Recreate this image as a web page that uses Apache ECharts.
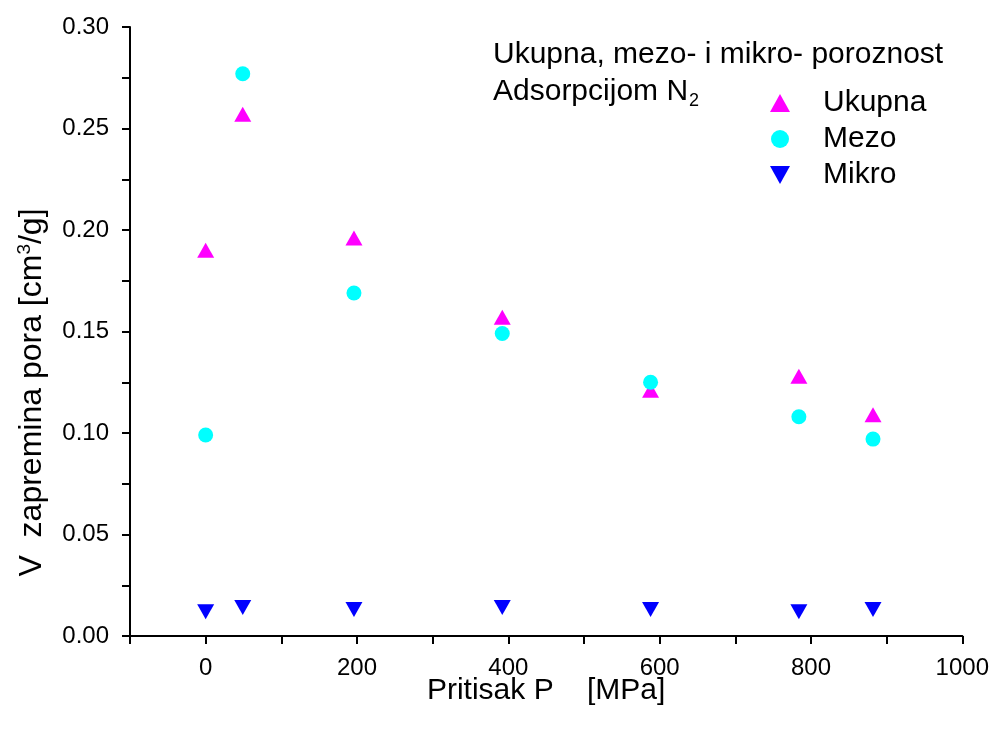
<!DOCTYPE html>
<html><head><meta charset="utf-8">
<script src="https://cdn.jsdelivr.net/npm/echarts@6/dist/echarts.min.js"></script>
<style>html,body{margin:0;padding:0;background:#fff}#c{width:992px;height:729px}</style>
</head><body><div id="c"></div>
<script>
var pressures = [0, 49, 196, 392, 588, 784, 882];
var ukupna = [0.190, 0.257, 0.196, 0.157, 0.121, 0.128, 0.109];
var mezo   = [0.099, 0.277, 0.169, 0.149, 0.125, 0.108, 0.097];
var mikro  = [0.012, 0.014, 0.013, 0.014, 0.013, 0.012, 0.013];
var xTicks = [0, 200, 400, 600, 800, 1000];
var yTicks = [0.00, 0.05, 0.10, 0.15, 0.20, 0.25, 0.30];
var seriesNames = ['Ukupna', 'Mezo', 'Mikro'];

function pairs(vals){ return pressures.map(function(p,i){ return [p, vals[i]]; }); }
var F = "'Liberation Sans',Arial,sans-serif";
var downTri = 'path://M0,0 L10,0 L5,9 Z';

var chart = echarts.init(document.getElementById('c'));
chart.setOption({
  backgroundColor: '#fff',
  animation: false,
  title: {
    text: 'Ukupna, mezo- i mikro- poroznost\nAdsorpcijom N{sub|2}',
    left: 488, top: 31,
    textStyle: {
      fontFamily: F, fontSize: 30, fontWeight: 'normal', color: '#000', lineHeight: 37,
      rich: { sub: { fontFamily: F, fontSize: 18, verticalAlign: 'bottom', padding: [22,0,0,1], lineHeight: 37 } }
    }
  },
  legend: {
    orient: 'vertical', left: 765, top: 83,
    itemWidth: 20, itemHeight: 18, itemGap: 6,
    textStyle: { fontFamily: F, fontSize: 30, color: '#000', padding: [0,0,0,28], lineHeight: 30 },
    data: [
      { name: seriesNames[0], icon: 'triangle', itemStyle: { color: '#ff00ff' } },
      { name: seriesNames[1], icon: 'circle', itemStyle: { color: '#00ffff' } },
      { name: seriesNames[2], icon: downTri, itemStyle: { color: '#0000ff' } }
    ]
  },
  grid: { left: 130, right: 29, top: 27, bottom: 93, containLabel: false },
  xAxis: {
    type: 'value', min: -100, max: 1000, interval: 100,
    name: 'Pritisak P    [MPa]', nameLocation: 'middle', nameGap: 40, nameMoveOverlap: false,
    nameTextStyle: { fontFamily: F, fontSize: 30, color: '#000' },
    axisLine: { show: true, onZero: false, lineStyle: { color: '#000', width: 2 } },
    axisTick: { show: true, inside: false, length: 8, lineStyle: { color: '#000', width: 2 } },
    axisLabel: { fontFamily: F, fontSize: 24, color: '#000', margin: 20,
      formatter: function(v){ return xTicks.indexOf(Math.round(v)) >= 0 ? String(Math.round(v)) : ''; } },
    splitLine: { show: false }
  },
  yAxis: {
    type: 'value', min: 0, max: 0.3, interval: 0.025,
    name: 'V  zapremina pora [cm{sup|3}/g]{pad|}', nameLocation: 'middle', nameGap: 80, nameMoveOverlap: false,
    nameTextStyle: { fontFamily: F, fontSize: 32, color: '#000',
      rich: { sup: { fontFamily: F, fontSize: 19, verticalAlign: 'top', padding: [0,0,16,0] },
              pad: { width: 122 } } },
    axisLine: { show: true, onZero: false, lineStyle: { color: '#000', width: 2 } },
    axisTick: { show: true, inside: false, length: 8, lineStyle: { color: '#000', width: 2 } },
    axisLabel: { fontFamily: F, fontSize: 24, color: '#000', margin: 21,
      formatter: function(v){
        var r = Math.round(v*1000);
        for (var i=0;i<yTicks.length;i++){ if (Math.round(yTicks[i]*1000) === r) return yTicks[i].toFixed(2); }
        return '';
      } },
    splitLine: { show: false }
  },
  series: [
    { name: seriesNames[0], type: 'scatter', data: pairs(ukupna), symbol: 'triangle', symbolSize: [17,15],
      itemStyle: { color: '#ff00ff', opacity: 1 }, z: 2 },
    { name: seriesNames[1], type: 'scatter', data: pairs(mezo), symbol: 'circle', symbolSize: 15,
      itemStyle: { color: '#00ffff', opacity: 1 }, z: 3 },
    { name: seriesNames[2], type: 'scatter', data: pairs(mikro), symbol: downTri, symbolSize: [17,15],
      itemStyle: { color: '#0000ff', opacity: 1 }, z: 2 }
  ]
});
</script></body></html>
